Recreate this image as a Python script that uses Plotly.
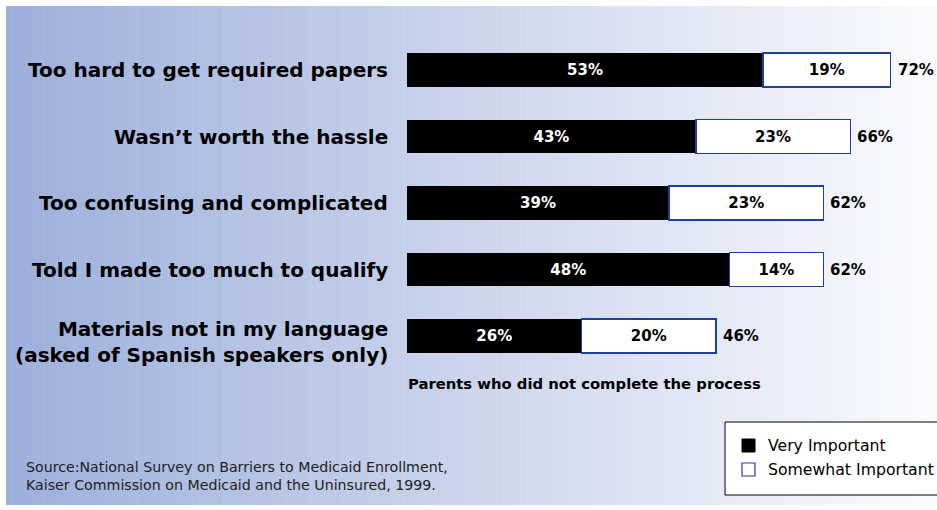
import plotly.graph_objects as go

# Survey reasons and percentages
reasons = [
    "Too hard to get required papers",
    "Wasn\u2019t worth the hassle",
    "Too confusing and complicated",
    "Told I made too much to qualify",
    "Materials not in my language<br>(asked of Spanish speakers only)",
]
very_important = [53, 43, 39, 48, 26]
somewhat_important = [19, 23, 23, 14, 20]
totals = [72, 66, 62, 62, 46]

W, H = 937, 510
BOLD = "DejaVu Sans"
REG = "DejaVu Sans"

fig = go.Figure()
ypos = list(range(len(reasons)))

fig.add_trace(go.Bar(
    y=ypos, x=very_important, orientation="h", name="Very Important",
    marker=dict(color="black", line=dict(color="black", width=0)),
    text=[f"<b>{v}%</b>" for v in very_important], textposition="inside",
    insidetextanchor="middle",
    textfont=dict(color="white", size=15, family=BOLD), width=0.51,
))
fig.add_trace(go.Bar(
    y=ypos, x=somewhat_important, orientation="h", name="Somewhat Important",
    marker=dict(color="white", line=dict(color="#1f3f9f", width=1.5)),
    text=[f"<b>{v}%</b>" for v in somewhat_important], textposition="inside",
    insidetextanchor="middle",
    textfont=dict(color="black", size=15, family=BOLD), width=0.51,
))

# background gradient strips
shapes = []
left_rgb = (157, 175, 219)
right_rgb = (250, 251, 254)
x0p, x1p = 6 / W, 1.0
y0p, y1p = 1 - 505 / H, 1 - 6 / H
n = 150
for i in range(n):
    t = i / (n - 1)
    c = tuple(round(left_rgb[k] + (right_rgb[k] - left_rgb[k]) * t) for k in range(3))
    xa = x0p + (x1p - x0p) * i / n
    xb = x0p + (x1p - x0p) * (i + 1) / n + 0.0005
    shapes.append(dict(type="rect", xref="paper", yref="paper", x0=xa, x1=xb,
                       y0=y0p, y1=y1p, fillcolor="rgb(%d,%d,%d)" % c,
                       line=dict(width=0), layer="below"))

# legend box
lx0, ly0 = 725, 422
shapes.append(dict(type="rect", xref="paper", yref="paper",
                   x0=lx0 / W, x1=1.01, y0=1 - 495 / H, y1=1 - ly0 / H,
                   fillcolor="white", line=dict(color="black", width=1)))
shapes.append(dict(type="rect", xref="paper", yref="paper",
                   x0=742 / W, x1=755 / W, y0=1 - 452 / H, y1=1 - 439 / H,
                   fillcolor="black", line=dict(color="black", width=1)))
shapes.append(dict(type="rect", xref="paper", yref="paper",
                   x0=742 / W, x1=755 / W, y0=1 - 476 / H, y1=1 - 463 / H,
                   fillcolor="white", line=dict(color="#1f3f9f", width=1.2)))

annotations = []
for i, r in enumerate(reasons):
    annotations.append(dict(xref="paper", yref="y", x=390 / W, y=i, text=f"<b>{r}</b>",
                            showarrow=False, xanchor="right", yanchor="middle", align="right",
                            yshift=-6 if "<br>" in r else 0,
                            font=dict(family=BOLD, size=20, color="black")))
    annotations.append(dict(xref="x", yref="y", x=totals[i], y=i, text=f"<b>{totals[i]}%</b>",
                            showarrow=False, xanchor="left", yanchor="middle", xshift=5,
                            font=dict(family=BOLD, size=15, color="black")))

annotations.append(dict(xref="paper", yref="paper", x=406 / W, y=1 - 383 / H,
                        text="<b>Parents who did not complete the process</b>",
                        showarrow=False, xanchor="left", yanchor="middle",
                        font=dict(family=BOLD, size=14.8, color="black")))
annotations.append(dict(xref="paper", yref="paper", x=766 / W, y=1 - 445 / H,
                        text="Very Important", showarrow=False, xanchor="left", yanchor="middle",
                        font=dict(family=REG, size=15.7, color="black")))
annotations.append(dict(xref="paper", yref="paper", x=766 / W, y=1 - 469 / H,
                        text="Somewhat Important", showarrow=False, xanchor="left", yanchor="middle",
                        font=dict(family=REG, size=15.7, color="black")))
annotations.append(dict(xref="paper", yref="paper", x=24 / W, y=1 - 476 / H,
                        text="Source:National Survey on Barriers to Medicaid Enrollment,<br>"
                             "Kaiser Commission on Medicaid and the Uninsured, 1999.",
                        showarrow=False, xanchor="left", yanchor="middle", align="left",
                        font=dict(family=REG, size=14.2, color="#222222")))

px_per_pct = (763 - 407) / 53
fig.update_layout(
    width=W, height=H, margin=dict(l=0, r=0, t=0, b=0),
    paper_bgcolor="white", plot_bgcolor="rgba(0,0,0,0)",
    barmode="stack", showlegend=False, bargap=0.49,
    xaxis=dict(domain=[407 / W, 1], range=[0, (W - 407) / px_per_pct], visible=False),
    yaxis=dict(domain=[1 - 369.25 / H, 1 - 36.75 / H], range=[4.5, -0.5], visible=False),
    shapes=shapes, annotations=annotations,
)

fig.write_html("out.html")
